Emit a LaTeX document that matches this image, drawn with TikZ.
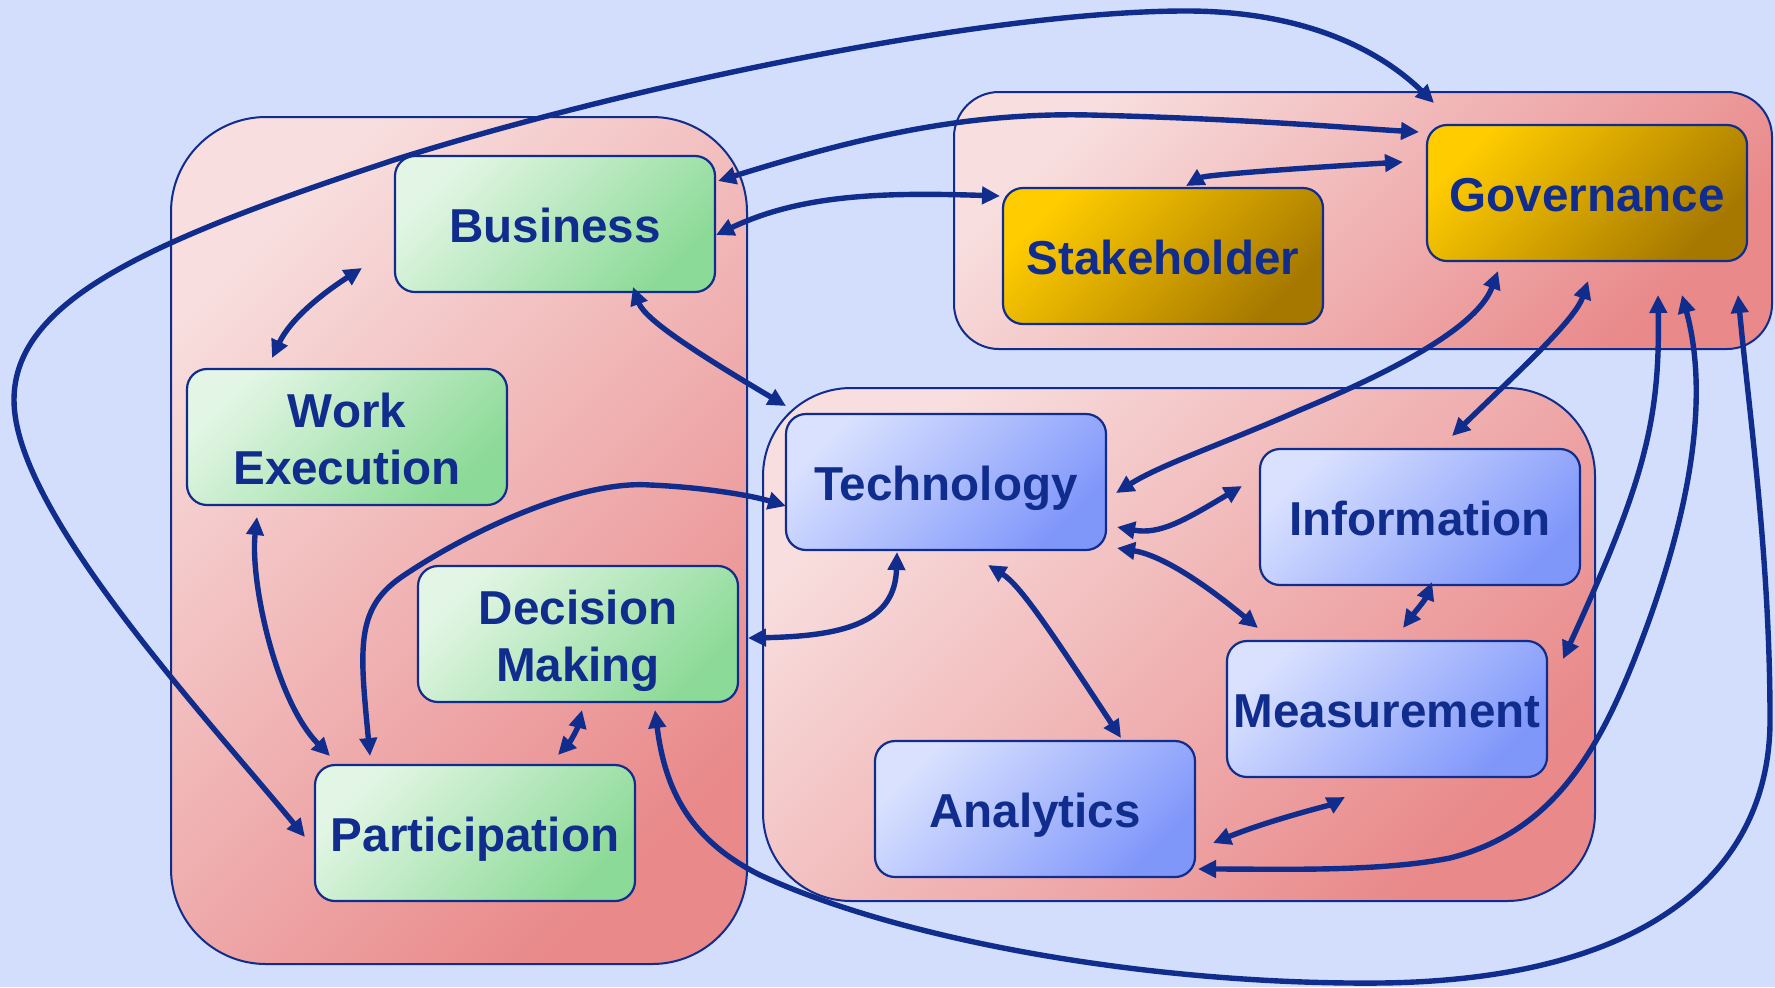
\documentclass[tikz,border=0pt]{standalone}
\usepackage{fontspec}
\setmainfont{Liberation Sans}
\usetikzlibrary{arrows.meta,calc}
\definecolor{bgblue}{HTML}{D3DEFC}
\definecolor{navy}{HTML}{102C8C}
\definecolor{grpA}{HTML}{F8DEDE}
\definecolor{grpB}{HTML}{E9898A}
\definecolor{grnA}{HTML}{E3F6E5}
\definecolor{grnB}{HTML}{8CDA97}
\definecolor{golA}{HTML}{FFCC00}
\definecolor{golB}{HTML}{A67800}
\definecolor{bluA}{HTML}{D9E1FF}
\definecolor{bluB}{HTML}{8097FA}
\tikzset{
  navytip/.tip={Triangle[length=9pt,width=8.5pt]},
  box/.style={draw=navy, line width=1.1pt, rounded corners=10pt,
    minimum width=160pt, minimum height=68pt, inner sep=0pt, align=center,
    text=navy, font=\bfseries\fontsize{23.8pt}{28.5pt}\selectfont},
  oneline/.style={text height=18.5pt, text depth=0pt},
  twoline/.style={text height=47pt, text depth=0pt},
  greenbox/.style={box, top color=grnA, bottom color=grnB, shading angle=45},
  goldbox/.style={box, top color=golA, bottom color=golB, shading angle=45},
  bluebox/.style={box, top color=bluA, bottom color=bluB, shading angle=45},
  grp/.style={draw=navy, line width=1pt, top color=grpA, bottom color=grpB, shading angle=45},
  conn/.style={draw=navy, line width=2.7pt, arrows={navytip-navytip}},
}
\begin{document}
\begin{tikzpicture}[x=0.5pt, y=-0.5pt]
\useasboundingbox (0,0) rectangle (1775,987);
\fill[bgblue] (0,0) rectangle (1775,987);
% groups
\path[grp, rounded corners=47.5pt] (171,117) rectangle (747,964);
\path[grp, rounded corners=22.5pt] (954,92) rectangle (1772,349);
\path[grp, rounded corners=44pt] (763,388) rectangle (1595,901);
% nodes
\node[greenbox, oneline] (biz) at (555,224) {Business};
\node[greenbox, twoline] (work) at (347,437) {Work\\Execution};
\node[greenbox, twoline] (dec) at (578,634) {Decision\\Making};
\node[greenbox, oneline] (part) at (475,833) {Participation};
\node[goldbox, oneline] (stake) at (1163,256) {Stakeholder};
\node[goldbox, oneline] (gov) at (1587,193) {Governance};
\node[bluebox, oneline] (tech) at (946,482) {Technology};
\node[bluebox, oneline] (info) at (1420,517) {Information};
\node[bluebox, oneline] (meas) at (1387,709) {Measurement};
\node[bluebox, oneline] (anal) at (1035,809) {Analytics};
% connectors
\draw[conn] ($(part)+(-170,4)$) .. controls (200,710) and (14,510) .. (14,400)
  .. controls (14,300) and (150,240) .. (400,158)
  .. controls (650,80) and (1000,10) .. (1190,11)
  .. controls (1320,12) and (1390,60) .. ($(gov)+(-153,-90)$);
\draw[conn] ($(biz)+(163,-43)$) .. controls (850,140) and (960,112) .. (1090,115)
  .. controls (1250,119) and (1350,128) .. ($(gov)+(-168,-61)$);
\draw[conn] ($(biz)+(161,11)$) .. controls (800,195) and (880,192) .. ($(stake)+(-163,-60)$);
\draw[conn] ($(stake)+(23,-70)$) .. controls (1205,175) and (1300,168) .. ($(gov)+(-184,-31)$);
\draw[conn] ($(biz)+(-193,44)$) .. controls (320,295) and (290,320) .. ($(work)+(-75,-79)$);
\draw[conn] ($(biz)+(78,63)$) .. controls (645,320) and (700,355) .. ($(tech)+(-160,-76)$);
\draw[conn] ($(work)+(-90,80)$) .. controls (250,580) and (275,700) .. ($(part)+(-145,-77)$);
\draw[conn] ($(part)+(-105,-77)$) .. controls (360,650) and (355,610) .. (400,578)
  .. controls (470,530) and (580,480) .. (650,485)
  .. controls (700,487) and (750,495) .. ($(tech)+(-160,24)$);
\draw[conn] ($(dec)+(4,76)$) .. controls (577,730) and (570,742) .. ($(part)+(83,-78)$);
\draw[conn] ($(dec)+(170,4)$) .. controls (850,636) and (895,620) .. ($(tech)+(-49,70)$);
\draw[conn] ($(dec)+(77,76)$) .. controls (665,790) and (690,840) .. (760,875)
  .. controls (900,940) and (1150,985) .. (1380,983)
  .. controls (1650,980) and (1770,870) .. (1770,720)
  .. controls (1770,560) and (1750,420) .. ($(gov)+(151,102)$);
\draw[conn] ($(gov)+(-89,78)$) .. controls (1480,320) and (1420,360) .. (1300,410)
  .. controls (1220,445) and (1160,465) .. ($(tech)+(170,11)$);
\draw[conn] ($(gov)+(1,88)$) .. controls (1575,320) and (1520,370) .. ($(info)+(32,-81)$);
\draw[conn] ($(gov)+(71,102)$) .. controls (1660,420) and (1645,480) .. ($(meas)+(176,-50)$);
\draw[conn] ($(gov)+(95,102)$) .. controls (1705,380) and (1700,480) .. (1647,626)
  .. controls (1605,740) and (1560,830) .. (1450,858)
  .. controls (1380,872) and (1280,869) .. ($(anal)+(163,60)$);
\draw[conn] ($(tech)+(171,45)$) .. controls (1160,535) and (1185,520) .. ($(info)+(-178,-31)$);
\draw[conn] ($(tech)+(171,66)$) .. controls (1160,555) and (1200,580) .. ($(meas)+(-129,-81)$);
\draw[conn] ($(info)+(12,65)$) .. controls (1425,600) and (1415,612) .. ($(meas)+(16,-81)$);
\draw[conn] ($(tech)+(42,83)$) .. controls (1020,585) and (1050,630) .. ($(anal)+(86,-71)$);
\draw[conn] ($(anal)+(178,34)$) .. controls (1270,820) and (1330,805) .. ($(meas)+(-42,88)$);
\end{tikzpicture}
\end{document}
